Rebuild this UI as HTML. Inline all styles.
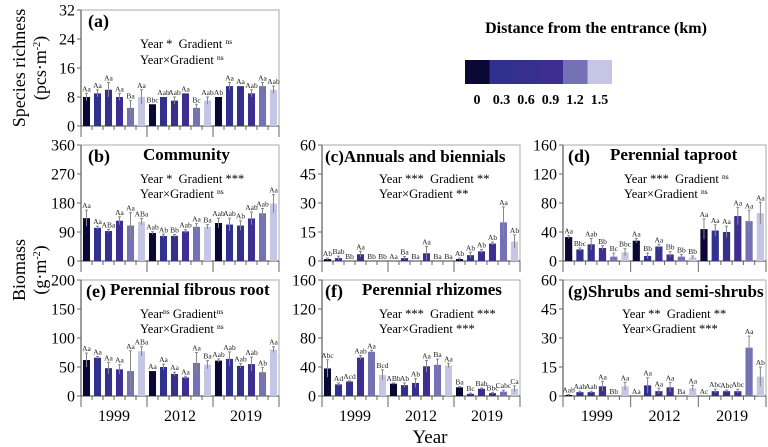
<!DOCTYPE html>
<html><head><meta charset="utf-8"><style>
body{margin:0;background:#fff}
svg{display:block;font-family:"Liberation Serif",serif}
</style></head><body>
<svg id="chart" width="768" height="447" viewBox="0 0 768 447">
<g>
<text x="596" y="33" text-anchor="middle" font-weight="bold" font-size="16">Distance from the entrance (km)</text>
<g id="legendBar"></g>
</g>
<text transform="translate(25,68) rotate(-90)" text-anchor="middle" font-size="18">Species richness</text>
<text transform="translate(46,68) rotate(-90)" text-anchor="middle" font-size="18">(pcs·m<tspan dy="-6" font-size="10">-2</tspan><tspan dy="6">)</tspan></text>
<text transform="translate(25,270) rotate(-90)" text-anchor="middle" font-size="18">Biomass</text>
<text transform="translate(46,270) rotate(-90)" text-anchor="middle" font-size="18">(g·m<tspan dy="-6" font-size="10">-2</tspan><tspan dy="6">)</tspan></text>
<text x="430" y="443" text-anchor="middle" font-size="19">Year</text>
</svg>
<script>
const years = ['1999','2012','2019'];
const distances = ['0','0.3','0.6','0.9','1.2','1.5'];
const colors = ['#0b0835','#30318f','#34308b','#3f2e91','#7472b5','#c5c5e5'];

const valA = [8,9,10,8,5,8, 6,8,7,9,5,7, 8,11,11,9,11,10];
const errA = [1,1,2,1,2,2, 0,0,1,0,1,1, 0,1,0,1,1,1];
const labA = ['Aa','Aa','Aa','Aa','Ba','Aa','Bbc','Aab','Aab','Aa','Bc','Aab','Ab','Aa','Aa','Aab','Aa','Aab'];
const valB = [133,103,93,125,110,122, 87,78,78,92,106,106, 118,113,110,132,148,178];
const errB = [25,5,5,12,40,10, 4,5,4,5,10,7, 15,20,15,20,15,28];
const labB = ['Aa','Aa','ABa','Aa','Aa','ABa','Aab','Ab','Bb','Aab','Aa','Ba','Aab','Aab','Ab','Aab','Aab','Aa'];
const valC = [1,1.5,0,3.5,0,0, 0,1.5,0,4,0,0, 1,3,5,9,20,10];
const errC = [0.5,1,0,1.5,0,0, 0,0.8,0,3.5,0,0, 0.5,1.5,1,0.8,8,3.5];
const labC = ['Ab','Bab','Bb','Aa','Bb','Bb','Aa','Ba','Ba','Aa','Ba','Ba','Ab','Ab','Ab','Ab','Aa','Ab'];
const valD = [33,16,23,18,6,12, 28,7,20,9,6,5, 44,42,40,62,55,66];
const errD = [2,2,8,3,5,5, 3,4,3,4,3,2, 14,8,8,12,15,15];
const labD = ['Aa','Bbc','Aab','Bb','Bc','Bbc','Aa','Bb','Aa','Bb','Bb','Bb','Aa','Aa','Aa','Aa','Aa','Aa'];
const valE = [62,66,48,46,43,77, 43,50,38,32,57,54, 61,64,52,55,41,80];
const errE = [12,2,10,8,35,8, 0,5,3,2,18,7, 3,12,4,12,8,5];
const labE = ['Aa','Aa','Aa','Aa','Aa','ABa','Aa','Aa','Aa','Aa','Aa','Ba','Aab','Aab','Aab','Aab','Ab','Aa'];
const valF = [38,16,20,53,61,29, 17,15,18,41,43,42, 12,3,10,4,6,10];
const errF = [12,2,1,3,2,7, 1,3,6,8,8,3, 1,1,1,1,2,4];
const labF = ['Abc','Ad','Acd','Aab','Aa','Bcd','ABb','Ab','Ab','Aa','Ba','Aa','Ba','Bc','Bab','Bbc','Cabc','Ca'];
const valG = [0.5,2,2,5,0,5, 0,5.5,2.5,4.5,0,4, 0,2.5,2.5,2.5,25,10];
const errG = [0.3,0.5,0.5,2.5,0,2, 0,4,1.5,2.5,0,1.5, 0,1,0.5,1,6,5];
const labG = ['Aab','Aab','Aab','Aa','Bb','Aa','Aa','Aa','Aa','Aa','Ba','Aa','Ac','Abc','Abc','Abc','Aa','Ab'];

const NS='http://www.w3.org/2000/svg';
const svg=document.getElementById('chart');
function mk(tag,attrs,parent){const e=document.createElementNS(NS,tag);for(const k in attrs)e.setAttribute(k,attrs[k]);(parent||svg).appendChild(e);return e;}

const lb=document.getElementById('legendBar');
distances.forEach((d,i)=>{
  const r=mk('rect',{x:465+i*24.5,y:60,width:24.5,height:24,fill:colors[i]},lb);
  
  
  const t=mk('text',{x:477+i*24.5,y:104,'text-anchor':'middle','font-size':14,'font-weight':'bold'},lb);
  t.textContent=d;
  
  
});

const panels=[
 {id:'a',x0:81,x1:279,y0:10,y1:126,max:32,step:8,vals:valA,errs:errA,labs:labA,years:false},
 {id:'b',x0:81,x1:279,y0:145,y1:261,max:360,step:90,vals:valB,errs:errB,labs:labB,years:false},
 {id:'c',x0:322,x1:520,y0:145,y1:261,max:60,step:15,vals:valC,errs:errC,labs:labC,years:false},
 {id:'d',x0:563,x1:766,y0:145,y1:261,max:160,step:40,vals:valD,errs:errD,labs:labD,years:false},
 {id:'e',x0:81,x1:279,y0:280,y1:396,max:200,step:50,vals:valE,errs:errE,labs:labE,years:true},
 {id:'f',x0:322,x1:520,y0:280,y1:396,max:160,step:40,vals:valF,errs:errF,labs:labF,years:true},
 {id:'g',x0:563,x1:766,y0:280,y1:396,max:60,step:15,vals:valG,errs:errG,labs:labG,years:true}
];

panels.forEach(p=>{
  const g=mk('g',{});
  
  
  const yS=v=>p.y1-(v/p.max)*(p.y1-p.y0);
  const gw=(p.x1-p.x0)/3, bw=gw/6;
  const xS=(gi,i)=>p.x0+gi*gw+i*bw;
  mk('rect',{x:p.x0,y:p.y0,width:p.x1-p.x0,height:p.y1-p.y0,fill:'none',stroke:'#aaa','stroke-width':1},g);
  const ax=mk('line',{x1:p.x0,y1:p.y0,x2:p.x0,y2:p.y1,stroke:'#666','stroke-width':1.3},g);
  
  
  mk('line',{x1:p.x0,y1:p.y1,x2:p.x1,y2:p.y1,stroke:'#666','stroke-width':1.3},g);
  for(let v=0;v<=p.max+1e-9;v+=p.step){
    const y=yS(v);
    mk('line',{x1:p.x0-4,y1:y,x2:p.x0,y2:y,stroke:'#666'},g);
    const t=mk('text',{x:p.x0-6,y:y+5.5,'text-anchor':'end','font-size':16},g);
    t.textContent=v;
    
    
  }
  for(let gi=0;gi<=3;gi++){
    const x=p.x0+gi*gw;
    mk('line',{x1:x,y1:p.y1,x2:x,y2:p.y1+11,stroke:'#666'},g);
    if(gi<3){
      for(let i=1;i<6;i++){const xx=xS(gi,i);mk('line',{x1:xx,y1:p.y1,x2:xx,y2:p.y1+4,stroke:'#666'},g);}
      if(p.years){
        const t=mk('text',{x:x+gw/2,y:p.y1+25,'text-anchor':'middle','font-size':16},g);
        t.textContent=years[gi];
        
        
      }
    }
  }
  p.vals.forEach((v,k)=>{
    const gi=Math.floor(k/6), i=k%6;
    const x=xS(gi,i)+bw*0.18, w=bw*0.64;
    const top=yS(v);
    const r=mk('rect',{x:x,y:top,width:w,height:Math.max(0,p.y1-top),fill:colors[i]},g);
    
    
    const e=p.errs[k];
    if(e>0){
      const eb=mk('line',{x1:x+w/2,y1:yS(v+e),x2:x+w/2,y2:yS(Math.max(0,v-e)),stroke:'#888','stroke-width':1},g);
      
      
      mk('line',{x1:x+w/2-1.5,y1:yS(v+e),x2:x+w/2+1.5,y2:yS(v+e),stroke:'#888'},g);
    }
    const lt=mk('text',{x:x+w/2,y:yS(v+e)-2,'text-anchor':'middle','font-size':7.5,fill:'#222'},g);
    lt.textContent=p.labs[k];
    
    
  });
});

const notes=[
 ['(a)',88,27,18,'bold','panel-label-a'],
 ['(b)',88,162,18,'bold','panel-label-b'],['Community',143,160,17,'bold','panel-title-b'],
 ['(c)Annuals and biennials',325,162,17,'bold','panel-title-c'],
 ['(d)',568,162,18,'bold','panel-label-d'],['Perennial taproot',610,160,17,'bold','panel-title-d'],
 ['(e)',86,297,18,'bold','panel-label-e'],['Perennial fibrous root',110,295,17,'bold','panel-title-e'],
 ['(f)',325,297,18,'bold','panel-label-f'],['Perennial rhizomes',362,295,17,'bold','panel-title-f'],
 ['(g)Shrubs and semi-shrubs',568,297,17,'bold','panel-title-g']
];
notes.forEach(n=>{
  const t=mk('text',{x:n[1],y:n[2],'font-size':n[3],'font-weight':n[4]});
  t.textContent=n[0];
  
  
});
const stats=[
 [140,48,'Year *&#160; ','Gradient ','ns',''],[140,64,'Year×Gradient ','','ns',''],
 [140,183,'Year *&#160; ','Gradient ***','',''],[140,198,'Year×Gradient ','','ns',''],
 [379,183,'Year ***&#160; ','Gradient **','',''],[379,198,'Year×Gradient **','','',''],
 [624,183,'Year ***&#160; ','Gradient ','ns',''],[624,198,'Year×Gradient ','','ns',''],
 [140,318,'Year','','ns',' Gradient','ns'],[140,333,'Year×Gradient ','','ns',''],
 [379,318,'Year ***&#160; ','Gradient ***','',''],[379,333,'Year×Gradient ***','','',''],
 [622,318,'Year **&#160; ','Gradient **','',''],[622,333,'Year×Gradient ***','','','']
];
stats.forEach(s=>{
  const t=mk('text',{x:s[0],y:s[1],'font-size':12.5});
  
  
  if(s.length===7){
    t.innerHTML=s[2]+'<tspan dy="-4" font-size="7.5">ns</tspan><tspan dy="4">'+s[5]+'</tspan><tspan dy="-4" font-size="7.5">ns</tspan>';
  } else {
    t.innerHTML=s[2]+s[3]+(s[4]?'<tspan dy="-4" font-size="7.5">'+s[4]+'</tspan>':'');
  }
});
</script>
</body></html>
